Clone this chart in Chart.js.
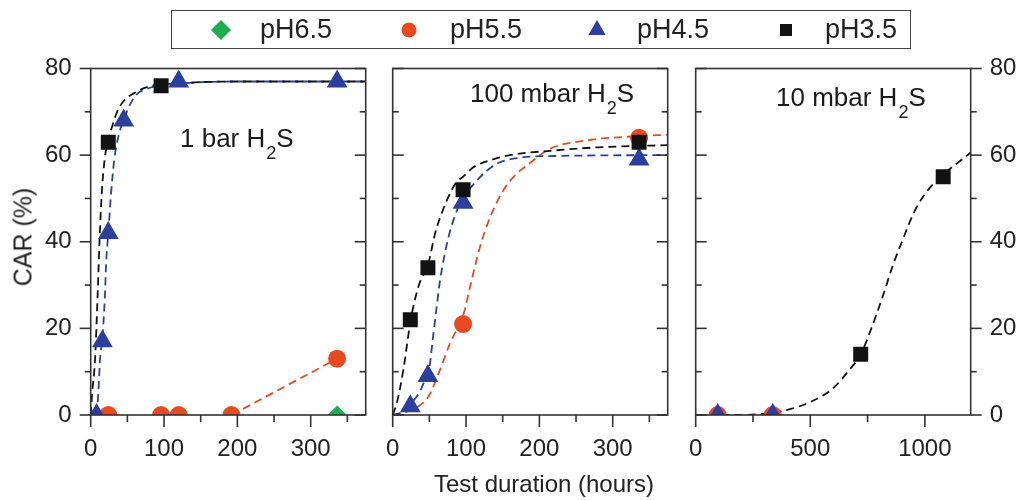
<!DOCTYPE html>
<html>
<head>
<meta charset="utf-8">
<script src="https://cdn.jsdelivr.net/npm/chart.js@4.4.0/dist/chart.umd.min.js"></script>
<style>
  body { margin: 0; background: #fff; }
  #wrap { position: relative; width: 1017px; height: 500px; overflow: hidden; font-family: "Liberation Sans", Arial, sans-serif; color: #222; }
  canvas.panel { position: absolute; left: 0; top: 0; }
  #legend { position: absolute; left: 171px; top: 10px; width: 740px; height: 39px; border: 1.5px solid #444; box-sizing: border-box; }
  #legendMarks { position: absolute; left: 0; top: 0; }
  .lg { position: absolute; top: 3px; font-size: 27px; line-height: 31px; white-space: nowrap; }
  #ytitle { position: absolute; left: 23px; top: 237px; font-size: 25px; white-space: nowrap; transform: translate(-50%, -50%) rotate(-90deg); }
  #xtitle { position: absolute; left: 544px; top: 470px; font-size: 24px; line-height: 28px; white-space: nowrap; transform: translateX(-50%); }
</style>
</head>
<body>
<div id="wrap">
  <canvas id="c1" class="panel" width="1017" height="500"></canvas>
  <canvas id="c2" class="panel" width="1017" height="500"></canvas>
  <canvas id="c3" class="panel" width="1017" height="500"></canvas>
  <div id="legend">
    <canvas id="legendMarks" width="740" height="39"></canvas>
    <span class="lg" style="left:88px">pH6.5</span>
    <span class="lg" style="left:278px">pH5.5</span>
    <span class="lg" style="left:465px">pH4.5</span>
    <span class="lg" style="left:653px">pH3.5</span>
  </div>
  <div id="ytitle">CAR (%)</div>
  <div id="xtitle">Test duration (hours)</div>
</div>
<script>
// measured points, [hours, CAR %]
const bar1Ph65 = [[24, 0], [336, 0]];
const bar1Ph55 = [[24, 0], [96, 0], [120, 0], [192, 0], [336, 13]];
const bar1Ph45 = [[8, 0], [16, 17], [24, 42], [45, 68], [120, 77], [336, 77]];
const bar1Ph35 = [[24, 63], [96, 76]];

const mbar100Ph55 = [[96, 21], [336, 64]];
const mbar100Ph45 = [[24, 2], [48, 9], [96, 49], [336, 59]];
const mbar100Ph35 = [[24, 22], [48, 34], [96, 52], [336, 63]];

const mbar10Ph55 = [[96, 0], [336, 0]];
const mbar10Ph45 = [[96, 0], [336, 0]];
const mbar10Ph35 = [[720, 14], [1080, 55]];

// fitted trend curves (dashed)
const fitBar1Ph55 = [[192, 0], [336, 13]];
const fitBar1Ph45 = [[8, 0], [10.4, 5], [12.7, 12.7], [16, 18], [19.5, 28], [21, 35], [24, 42], [27.7, 51], [32, 58.8], [38, 64.5], [44.5, 68], [60, 73.5], [80, 75.5], [120, 76.5], [200, 77], [375, 77]];
const fitBar1Ph35 = [[0, 0], [2, 5], [6, 13], [9.5, 28], [12, 40], [15, 51], [19, 59], [24, 63.5], [29, 66.5], [36, 70], [45, 72.5], [58, 74.2], [83, 76], [120, 76.6], [200, 77], [375, 77]];

const fitMbar100Ph55 = [[0, 0], [20, 0.8], [35, 2], [48.6, 4.2], [64.5, 10.4], [78, 16.5], [97, 23.5], [105.5, 29.6], [119, 38.8], [133, 45.7], [151, 51.9], [169, 55.7], [183, 57.6], [215, 61.5], [265, 63.4], [336, 64.4], [375, 64.7]];
const fitMbar100Ph45 = [[0, 0], [15, 0.8], [25, 2.7], [35, 4.8], [42, 7.3], [50, 11], [55, 18], [60, 25], [64.5, 31], [76, 41], [89.5, 48], [96, 50], [115, 54.2], [142, 58], [169, 59.3], [220, 59.8], [375, 60]];
const fitMbar100Ph35 = [[0, 0], [5.5, 2.7], [14.5, 10.4], [24.5, 21.9], [35, 29.6], [48.6, 35], [58, 42], [74, 49.6], [87, 53.8], [96, 55], [110, 57.2], [133, 58.8], [160, 60], [215, 61], [280, 61.8], [375, 62.3]];

const fitMbar10Ph35 = [[0, 0], [100, 0], [200, 0], [300, 0.3], [400, 1.2], [500, 3], [600, 6.2], [670, 10.4], [720, 14], [770, 20.5], [820, 28], [860, 34.5], [900, 40], [950, 46.5], [1000, 51], [1080, 55.5], [1150, 58.5], [1200, 60.6]];

// axis ticks (labelled) and the half-step minor marks between them
const carTicks = [0, 20, 40, 60, 80];
const hourTicks = [0, 100, 200, 300];
const longHourTicks = [0, 500, 1000];

const GREEN = '#1fae4d', RED = '#ea4a22', BLUE = '#2c3fa0', BLACK = '#121212';
const TICK_FONT = { family: '"Liberation Sans Narrow", "Liberation Sans", Arial, sans-serif', size: 24 };

Chart.defaults.font.family = '"Liberation Sans", Arial, sans-serif';
Chart.defaults.color = '#222';

const toXY = pts => pts.map(p => ({ x: p[0], y: p[1] }));

function marks(pts, color, style, radius) {
    return {
        type: 'scatter', data: toXY(pts), pointStyle: style, pointRadius: radius,
        backgroundColor: color, borderColor: color, borderWidth: 0, clip: 0
    };
}

function trend(pts, color) {
    return {
        type: 'line', data: toXY(pts), borderColor: color, borderWidth: 1.8, borderDash: [8, 5],
        pointRadius: 0, fill: false, cubicInterpolationMode: 'monotone', clip: 0
    };
}

// frame, inward/outward tick marks and the panel caption
const framePlugin = {
    id: 'frame',
    afterDatasetsDraw(chart, args, opts) {
        const { ctx, chartArea: a, scales } = chart;
        const xs = scales.x, ys = scales.y;
        ctx.save();
        ctx.strokeStyle = '#333';
        ctx.lineWidth = 1.6;
        ctx.strokeRect(a.left, a.top, a.right - a.left, a.bottom - a.top);

        const drawTicks = (scale, minorStep, side, dir) => {
            const majors = scale.ticks.map(t => t.value);
            const vals = majors.map(v => [v, true]);
            for (let v = scale.min; v <= scale.max; v += minorStep) {
                if (!majors.includes(v)) vals.push([v, false]);
            }
            vals.forEach(([v, major]) => {
                const len = major ? 11 : 6;
                const p = scale.getPixelForValue(v);
                ctx.beginPath();
                if (side === 'left' || side === 'right') {
                    const x0 = side === 'left' ? a.left : a.right;
                    const sgn = (side === 'left') === (dir === 'out') ? -1 : 1;
                    ctx.moveTo(x0, p);
                    ctx.lineTo(x0 + sgn * len, p);
                } else {
                    ctx.moveTo(p, a.bottom);
                    ctx.lineTo(p, a.bottom + (major ? 12 : 7));
                }
                ctx.stroke();
            });
        };
        drawTicks(ys, 10, 'left', opts.left);
        drawTicks(ys, 10, 'right', opts.right);
        drawTicks(xs, opts.xMinor, 'bottom', 'out');

        const c = opts.caption;
        const x = a.left + c.dx, y = a.top + c.dy;
        ctx.fillStyle = '#1a1a1a';
        ctx.textBaseline = 'alphabetic';
        ctx.font = '26px "Liberation Sans", Arial, sans-serif';
        ctx.fillText(c.text, x, y);
        const w1 = ctx.measureText(c.text).width;
        ctx.font = '18px "Liberation Sans", Arial, sans-serif';
        ctx.fillText('2', x + w1 + 1, y + 12);
        const w2 = ctx.measureText('2').width;
        ctx.font = '26px "Liberation Sans", Arial, sans-serif';
        ctx.fillText('S', x + w1 + w2 + 1, y);
        ctx.restore();
    }
};

function panel(id, cfg) {
    const plain = v => String(v);
    return new Chart(document.getElementById(id), {
        data: { datasets: cfg.datasets },
        options: {
            responsive: false,
            animation: false,
            events: [],
            layout: { autoPadding: false, padding: cfg.padding },
            scales: {
                x: {
                    type: 'linear', min: 0, max: cfg.xMax, position: 'bottom',
                    afterBuildTicks: s => { s.ticks = cfg.xTicks.map(v => ({ value: v })); },
                    afterFit: s => { s.height = 45; },
                    grid: { display: false, drawTicks: true, tickLength: 12 },
                    border: { display: false },
                    ticks: { autoSkip: false, maxRotation: 0, font: TICK_FONT, color: '#222', padding: 8, callback: plain }
                },
                y: {
                    type: 'linear', min: 0, max: 80, position: cfg.yPos || 'left', display: cfg.yLabels,
                    afterBuildTicks: s => { s.ticks = carTicks.map(v => ({ value: v })); },
                    afterFit: s => { s.width = cfg.yWidth; },
                    grid: { display: false, drawTicks: true, tickLength: 11 },
                    border: { display: false },
                    ticks: { autoSkip: false, font: TICK_FONT, color: '#222', padding: 8, callback: plain }
                }
            },
            plugins: {
                legend: { display: false },
                tooltip: { enabled: false },
                frame: { left: cfg.left, right: cfg.right, xMinor: cfg.xTicks[1] / 2, caption: cfg.caption }
            }
        },
        plugins: [framePlugin]
    });
}

// 1 bar H2S
panel('c1', {
    xMax: 375, xTicks: hourTicks, yLabels: true, yWidth: 70,
    padding: { left: 20.7, right: 651.3, top: 68.5, bottom: 40 },
    left: 'out', right: 'in',
    caption: { text: '1 bar H', dx: 89.3, dy: 78.2 },
    datasets: [
        marks(bar1Ph35, BLACK, 'rect', 10.6),
        marks(bar1Ph45, BLUE, 'triangle', 12),
        marks(bar1Ph55, RED, 'circle', 9),
        marks(bar1Ph65, GREEN, 'rectRot', 9.5),
        trend(fitBar1Ph35, BLACK),
        trend(fitBar1Ph45, BLUE),
        trend(fitBar1Ph55, RED)
    ]
});

// 100 mbar H2S
panel('c2', {
    xMax: 375, xTicks: hourTicks, yLabels: false, yWidth: 0,
    padding: { left: 392.7, right: 349.3, top: 68.5, bottom: 40 },
    left: 'in', right: 'in',
    caption: { text: '100 mbar H', dx: 77.3, dy: 33.2 },
    datasets: [
        marks(mbar100Ph35, BLACK, 'rect', 10.6),
        marks(mbar100Ph45, BLUE, 'triangle', 12),
        marks(mbar100Ph55, RED, 'circle', 9),
        trend(fitMbar100Ph35, BLACK),
        trend(fitMbar100Ph45, BLUE),
        trend(fitMbar100Ph55, RED)
    ]
});

// 10 mbar H2S
panel('c3', {
    xMax: 1200, xTicks: longHourTicks, yLabels: true, yWidth: 46, yPos: 'right',
    padding: { left: 695.7, right: 0.3, top: 68.5, bottom: 40 },
    left: 'in', right: 'out',
    caption: { text: '10 mbar H', dx: 80.3, dy: 37.2 },
    datasets: [
        marks(mbar10Ph35, BLACK, 'rect', 10.6),
        marks(mbar10Ph45, BLUE, 'triangle', 12),
        marks(mbar10Ph55, RED, 'circle', 9),
        trend(fitMbar10Ph35, BLACK)
    ]
});

// legend symbols
(function () {
    const ctx = document.getElementById('legendMarks').getContext('2d');
    const sym = [
        { x: 49, color: GREEN, style: 'rectRot', r: 10 },
        { x: 237, color: RED, style: 'circle', r: 7.5 },
        { x: 425, color: BLUE, style: 'triangle', r: 10 },
        { x: 614, color: BLACK, style: 'rect', r: 8.5 }
    ];
    sym.forEach(s => {
        ctx.fillStyle = s.color;
        Chart.helpers.drawPoint(ctx, { pointStyle: s.style, radius: s.r, rotation: 0, borderWidth: 0 }, s.x, 19);
    });
})();
</script>
</body>
</html>
